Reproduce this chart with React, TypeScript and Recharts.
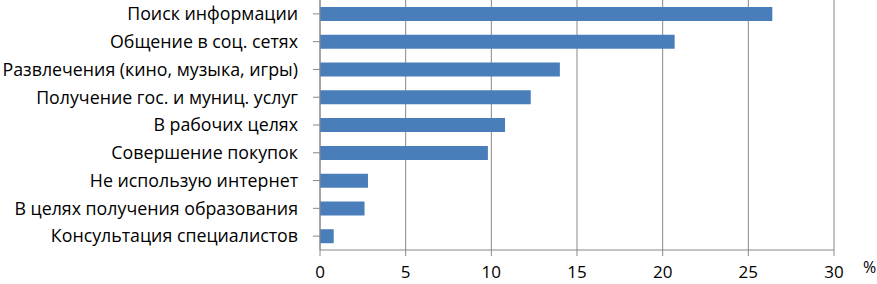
import { BarChart, Bar, XAxis, YAxis, CartesianGrid, Label } from "recharts";

const categories = [
  "Поиск информации",
  "Общение в соц. сетях",
  "Развлечения (кино, музыка, игры)",
  "Получение гос. и муниц. услуг",
  "В рабочих целях",
  "Совершение покупок",
  "Не использую интернет",
  "В целях получения образования ",
  "Консультация специалистов",
];

const shares = [26.4, 20.7, 14.0, 12.3, 10.8, 9.8, 2.8, 2.6, 0.8];

const xTicks = [0, 5, 10, 15, 20, 25, 30];

const data = categories.map((name, i) => ({ name, value: shares[i] }));

const FONT = "'Open Sans', 'Noto Sans', sans-serif";
const AXIS = "#888888";

export default function App() {
  return (
    <div style={{ position: "fixed", left: 0, top: 0, width: 877, height: 284, background: "#fff" }}>
      <BarChart
        width={877}
        height={284}
        data={data}
        layout="vertical"
        margin={{ top: 0, right: 43, bottom: 0, left: 0 }}
      >
        <CartesianGrid horizontal={false} stroke={AXIS} strokeWidth={1} />
        <XAxis
          type="number"
          dataKey="value"
          domain={[0, 30]}
          ticks={xTicks}
          height={34}
          stroke={AXIS}
          tickSize={6}
          tickMargin={10}
          tick={{ fill: "#000", fontSize: 17, fontFamily: FONT }}
        >
          <Label
            value="%"
            position="right"
            offset={29}
            dy={0}
            style={{ fill: "#000", fontSize: 16, fontFamily: FONT }}
          />
        </XAxis>
        <YAxis
          type="category"
          dataKey="name"
          width={320}
          stroke={AXIS}
          tickSize={7}
          tickMargin={15}
          interval={0}
          tick={{ fill: "#000", fontSize: 17.8, fontFamily: FONT }}
        />
        <Bar dataKey="value" fill="#4a7ebb" barSize={14} isAnimationActive={false} />
      </BarChart>
    </div>
  );
}
